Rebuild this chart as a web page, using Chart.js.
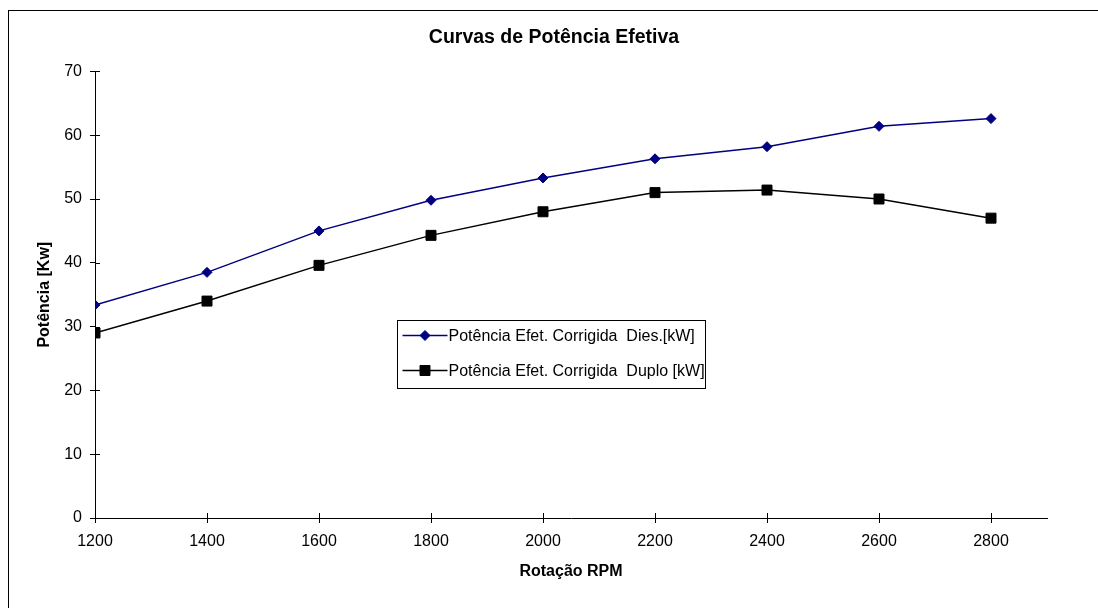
<!DOCTYPE html>
<html>
<head>
<meta charset="utf-8">
<title>Curvas de Potência Efetiva</title>
<script src="https://cdn.jsdelivr.net/npm/chart.js@4.4.1/dist/chart.umd.min.js"></script>
<style>
  html, body { margin: 0; padding: 0; background: #fff; }
</style>
</head>
<body>
<canvas id="chart" width="1098" height="608"></canvas>
<script>
// values
const rpm = [1200, 1400, 1600, 1800, 2000, 2200, 2400, 2600, 2800];
const potDiesel = [33.4, 38.5, 45.0, 49.8, 53.3, 56.3, 58.2, 61.4, 62.6];
const potDuplo = [29.0, 34.0, 39.6, 44.3, 48.0, 51.0, 51.4, 50.0, 47.0];
const rpmTicks = [1200, 1400, 1600, 1800, 2000, 2200, 2400, 2600, 2800];
const potTicks = [0, 10, 20, 30, 40, 50, 60, 70];

const FONT = "'Liberation Sans', Arial, sans-serif";

// white page + outer frame like the Excel chart area
const frame = {
  id: 'frame',
  beforeDraw(chart) {
    const ctx = chart.ctx;
    ctx.save();
    ctx.fillStyle = '#fff';
    ctx.fillRect(0, 0, chart.width, chart.height);
    ctx.strokeStyle = '#000';
    ctx.lineWidth = 1;
    ctx.strokeRect(8.5, 10.5, chart.width + 20, chart.height + 20);
    ctx.restore();
  }
};

// tick marks also cross inside the axes
const innerTicks = {
  id: 'innerTicks',
  afterDatasetsDraw(chart) {
    const ctx = chart.ctx;
    const xs = chart.scales.x, ys = chart.scales.y;
    ctx.save();
    ctx.strokeStyle = '#000';
    ctx.lineWidth = 1;
    ctx.beginPath();
    ys.ticks.forEach(t => {
      const py = Math.round(ys.getPixelForValue(t.value)) + 0.5;
      ctx.moveTo(ys.right, py);
      ctx.lineTo(ys.right + 5, py);
    });
    xs.ticks.forEach(t => {
      const px = Math.round(xs.getPixelForValue(t.value)) + 0.5;
      ctx.moveTo(px, xs.top);
      ctx.lineTo(px, xs.top - 5);
    });
    ctx.stroke();
    ctx.restore();
  }
};

// legend box sitting inside the plot
const insideLegend = {
  id: 'insideLegend',
  afterDraw(chart) {
    const ctx = chart.ctx;
    const a = chart.chartArea;
    const x = Math.round(a.left + 302) + 0.5;
    const y = Math.round(a.top + 248.5) + 0.5;
    const w = 308, h = 68;
    ctx.save();
    ctx.fillStyle = '#fff';
    ctx.fillRect(x, y, w, h);
    ctx.strokeStyle = '#000';
    ctx.lineWidth = 1;
    ctx.strokeRect(x, y, w, h);
    chart.data.datasets.forEach((ds, i) => {
      const cy = y + 15 + i * 35;
      ctx.strokeStyle = ds.borderColor;
      ctx.lineWidth = ds.borderWidth;
      ctx.beginPath();
      ctx.moveTo(x + 5, cy);
      ctx.lineTo(x + 50, cy);
      ctx.stroke();
      ctx.fillStyle = ds.pointBackgroundColor;
      ctx.strokeStyle = ds.pointBorderColor;
      ctx.lineWidth = 1;
      Chart.helpers.drawPoint(ctx, {pointStyle: ds.pointStyle, radius: ds.pointRadius, borderWidth: 1, rotation: 0}, x + 27.5, cy);
      ctx.fillStyle = '#000';
      ctx.font = '16px ' + FONT;
      ctx.textBaseline = 'middle';
      ctx.fillText(ds.label, x + 51, cy + 1);
    });
    ctx.restore();
  }
};

new Chart(document.getElementById('chart'), {
  type: 'line',
  data: {
    datasets: [
      {
        label: 'Potência Efet. Corrigida  Dies.[kW]',
        data: rpm.map((r, i) => ({x: r, y: potDiesel[i]})),
        borderColor: '#000080',
        borderWidth: 1.5,
        pointStyle: 'rectRot',
        pointRadius: 5,
        pointBackgroundColor: '#000080',
        pointBorderColor: '#000080',
        pointBorderWidth: 1,
        tension: 0
      },
      {
        label: 'Potência Efet. Corrigida  Duplo [kW]',
        data: rpm.map((r, i) => ({x: r, y: potDuplo[i]})),
        borderColor: '#000000',
        borderWidth: 1.5,
        pointStyle: 'rect',
        pointRadius: 7.07,
        pointBackgroundColor: '#000000',
        pointBorderColor: '#000000',
        pointBorderWidth: 1,
        tension: 0
      }
    ]
  },
  options: {
    responsive: false,
    animation: false,
    devicePixelRatio: 1,
    layout: { padding: { left: 10, right: 0, top: 0, bottom: 0 } },
    plugins: {
      legend: { display: false },
      tooltip: { enabled: false },
      title: {
        display: true,
        text: 'Curvas de Potência Efetiva',
        color: '#000',
        font: { family: FONT, size: 19.5, weight: 'bold' },
        padding: { top: 26, bottom: 22 }
      }
    },
    scales: {
      x: {
        type: 'linear',
        min: 1200,
        max: 2900,
        afterBuildTicks: s => { s.ticks = rpmTicks.map(v => ({value: v})); },
        afterFit: s => { s.height = 90; },
        grid: { display: true, drawOnChartArea: false, drawTicks: true, tickLength: 5, color: '#000' },
        border: { display: true, color: '#000', width: 1 },
        ticks: { color: '#000', font: { family: FONT, size: 16 }, padding: 9, maxRotation: 0, autoSkip: false, callback: v => String(v) },
        title: {
          display: true,
          text: 'Rotação RPM',
          color: '#000',
          font: { family: FONT, size: 16, weight: 'bold' },
          padding: { top: 0, bottom: 26.4 }
        }
      },
      y: {
        type: 'linear',
        position: 'left',
        min: 0,
        max: 70,
        afterBuildTicks: s => { s.ticks = potTicks.map(v => ({value: v})); },
        afterFit: s => { s.width = 85; },
        grid: { display: true, drawOnChartArea: false, drawTicks: true, tickLength: 5, color: '#000' },
        border: { display: true, color: '#000', width: 1 },
        ticks: { color: '#000', font: { family: FONT, size: 16 }, padding: 8, callback: v => String(v) },
        title: {
          display: true,
          text: 'Potência [Kw]',
          color: '#000',
          font: { family: FONT, size: 16, weight: 'bold' },
          padding: { top: 25, bottom: 0 }
        }
      },
      spacer: {
        type: 'linear',
        position: 'right',
        display: true,
        afterFit: s => { s.width = 51; },
        grid: { display: false, drawTicks: false },
        border: { display: false },
        ticks: { display: false }
      }
    }
  },
  plugins: [frame, innerTicks, insideLegend]
});
</script>
</body>
</html>
